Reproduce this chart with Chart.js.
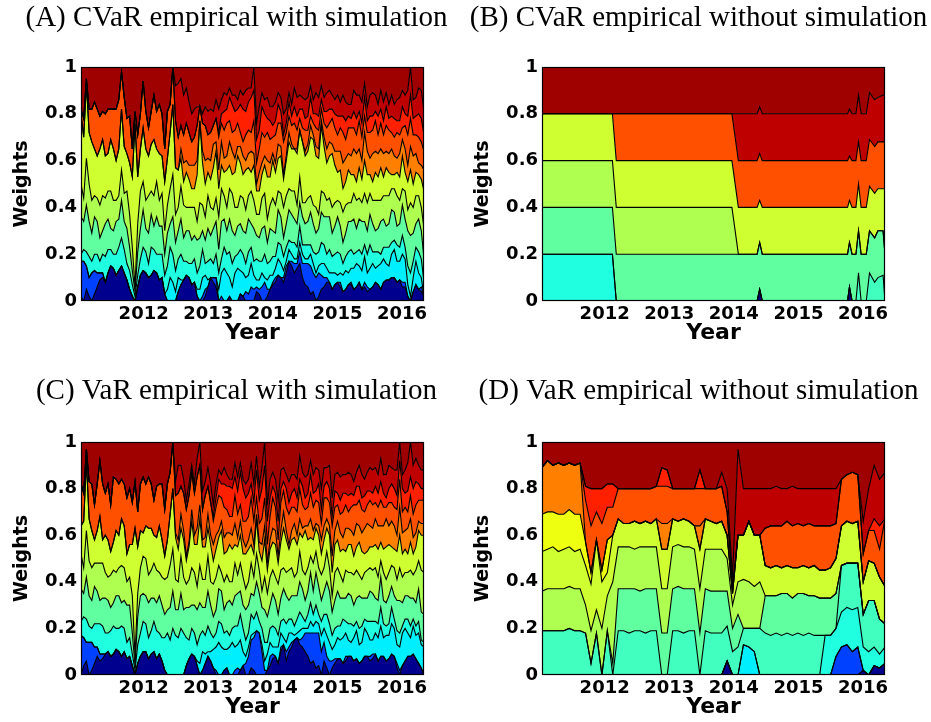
<!DOCTYPE html>
<html>
<head>
<meta charset="utf-8">
<script src="https://cdn.jsdelivr.net/npm/chart.js@4.4.1/dist/chart.umd.min.js"></script>
<style>
  body { margin: 0; width: 931px; height: 722px; overflow: hidden; background: #fff; position: relative; }
  .panel { position: absolute; }
</style>
</head>
<body>
<div class="panel" style="left:0px;top:0px;width:473px;height:347px"><canvas id="chartA"></canvas></div>
<div class="panel" style="left:466px;top:0px;width:465px;height:347px"><canvas id="chartB"></canvas></div>
<div class="panel" style="left:0px;top:370px;width:473px;height:352px"><canvas id="chartC"></canvas></div>
<div class="panel" style="left:466px;top:370px;width:465px;height:352px"><canvas id="chartD"></canvas></div>
<script>
const yearTicks = [2012, 2013, 2014, 2015, 2016];
const firstYear = 2011.03, lastYear = 2016.34;
// rebalancing dates: twice a month for the simulated panels, monthly for (D)
const spread = (n) => Array.from({ length: n }, (_, i) => firstYear + (i * (lastYear - firstYear)) / (n - 1));
const fineDates = spread(128);
const dates = spread(64);

// jet colours, one per asset
const navy = '#00008f', blue = '#0040ff', cyan = '#00efff', aqua = '#20ffdf', teal = '#40ffbf',
  mint = '#60ff9f', lgreen = '#afff50', ygreen = '#cfff30', yellow = '#efff10', amber = '#ff8000',
  orange = '#ff5000', red = '#ff2000', dred = '#bf0000', topRed = '#9f0000';

// (A) CVaR empirical with simulation
const aNavy = [0.02,0.0,0.05,0.02,0.0,0.03,0.06,0.09,0.1,0.08,0.12,0.15,0.14,0.11,0.13,0.15,
  0.12,0.09,0.05,0.02,0.0,0.06,0.11,0.13,0.12,0.1,0.11,0.13,0.12,0.09,0.1,0.03,
  0.0,0.0,0.0,0.0,0.04,0.07,0.09,0.11,0.1,0.07,0.08,0.02,0.0,0.0,0.02,0.06,
  0.1,0.08,0.06,0.0,0.0,0.0,0.0,0.02,0.0,0.0,0.0,0.03,0.02,0.0,0.0,0.0,
  0.0,0.04,0.03,0.0,0.0,0.02,0.05,0.07,0.08,0.11,0.1,0.08,0.12,0.17,0.15,0.12,
  0.14,0.16,0.1,0.07,0.06,0.03,0.04,0.0,0.02,0.05,0.06,0.08,0.08,0.05,0.07,0.08,
  0.06,0.04,0.05,0.07,0.07,0.05,0.06,0.08,0.05,0.06,0.04,0.05,0.06,0.08,0.07,0.05,
  0.08,0.09,0.09,0.1,0.1,0.08,0.09,0.06,0.06,0.02,0.0,0.04,0.07,0.05,0.04,0.02];
const aBlue = [0.15,0.17,0.1,0.08,0.12,0.1,0.06,0.03,0.02,0.0,0,0,0,0,0,0,
  0,0,0,0,0,0,0,0,0,0,0,0,0,0,0,0,
  0,0,0,0,0,0,0,0,0,0,0,0,0,0.02,0.03,0.0,
  0.0,0.02,0.04,0.0,0.02,0.0,0,0,0,0,0,0,0,0.04,0.03,0.06,
  0.05,0.02,0.02,0.06,0.08,0.03,0.0,0.01,0.02,0.0,0.0,0.02,0.03,0.0,0.02,0.04,
  0.02,0.05,0.06,0.09,0.1,0.12,0.08,0.1,0.1,0.06,0.04,0.02,0.0,0.0,0.0,0.0,
  0.02,0.0,0,0,0.01,0.0,0,0,0,0.02,0.02,0.0,0,0,0,0,
  0,0,0,0,0,0,0,0.02,0.02,0.0,0,0,0,0,0.02,0.0];
const aCyan = [0,0,0,0,0,0,0,0,0,0,0,0,0,0,0,0,
  0,0,0,0,0,0,0,0,0,0,0,0,0,0,0,0,
  0.05,0.1,0.08,0.04,0.06,0.02,0,0,0,0,0,0.03,0.05,0.08,0.06,0.03,
  0.0,0.0,0.0,0.05,0.1,0.14,0.12,0.08,0.06,0.12,0.14,0.1,0.1,0.06,0.08,0.1,
  0.06,0.03,0.04,0.06,0.02,0.04,0.06,0.03,0.04,0.07,0.06,0.03,0.02,0.05,0.03,0.02,
  0.02,0.04,0.04,0.02,0.02,0.05,0.04,0.02,0.03,0.05,0.06,0.04,0.04,0.07,0.05,0.03,
  0.04,0.07,0.08,0.05,0.06,0.09,0.1,0.07,0.08,0.11,0.06,0.09,0.1,0.06,0.08,0.11,
  0.1,0.07,0.06,0.1,0.12,0.09,0.08,0.12,0.1,0.05,0.02,0.06,0.1,0.07,0.04,0.0];
const aAqua = [0.03,0.05,0.06,0.09,0.05,0.07,0.08,0.05,0.08,0.11,0.1,0.07,0.06,0.09,0.1,0.12,
  0.1,0.07,0.08,0.05,0.02,0.05,0.07,0.1,0.09,0.06,0.12,0.09,0.08,0.11,0.1,0.08,
  0.1,0.13,0.12,0.09,0.08,0.11,0.08,0.06,0.06,0.09,0.1,0.07,0.1,0.12,0.05,0.08,
  0.08,0.06,0.1,0.07,0.06,0.09,0.08,0.11,0.1,0.07,0.06,0.09,0.08,0.06,0.1,0.07,
  0.06,0.09,0.08,0.05,0.1,0.07,0.06,0.08,0.05,0.07,0.08,0.06,0.06,0.04,0.05,0.07,
  0.05,0.07,0.04,0.06,0.06,0.04,0.05,0.08,0.06,0.09,0.08,0.06,0.1,0.07,0.08,0.1,
  0.08,0.05,0.06,0.09,0.08,0.06,0.05,0.07,0.07,0.05,0.08,0.1,0.05,0.07,0.06,0.04,
  0.05,0.07,0.08,0.05,0.04,0.07,0.06,0.08,0.05,0.08,0.1,0.07,0.06,0.09,0.08,0.06];
const aMint = [0.16,0.12,0.2,0.15,0.12,0.16,0.14,0.1,0.1,0.14,0.13,0.09,0.1,0.14,0.12,0.16,
  0.12,0.15,0.1,0.06,0.02,0.1,0.13,0.16,0.1,0.13,0.14,0.1,0.16,0.12,0.12,0.09,
  0.14,0.1,0.16,0.12,0.12,0.15,0.1,0.13,0.14,0.1,0.1,0.14,0.12,0.08,0.1,0.14,
  0.1,0.15,0.14,0.1,0.16,0.12,0.1,0.14,0.14,0.09,0.12,0.11,0.1,0.13,0.14,0.1,
  0.14,0.1,0.1,0.14,0.12,0.09,0.14,0.11,0.1,0.14,0.12,0.08,0.1,0.13,0.12,0.1,
  0.1,0.1,0.12,0.09,0.1,0.14,0.12,0.09,0.1,0.13,0.12,0.16,0.14,0.1,0.12,0.15,
  0.12,0.09,0.1,0.13,0.12,0.15,0.1,0.13,0.14,0.1,0.1,0.13,0.12,0.09,0.1,0.14,
  0.12,0.09,0.1,0.14,0.12,0.08,0.1,0.13,0.12,0.15,0.16,0.12,0.1,0.14,0.12,0.1];
const aLgreen = [0.14,0.1,0.2,0.16,0.14,0.09,0.1,0.14,0.15,0.11,0.12,0.16,0.13,0.09,0.1,0.13,
  0.12,0.16,0.14,0.1,0.02,0.12,0.16,0.12,0.12,0.16,0.1,0.13,0.15,0.11,0.14,0.1,
  0.12,0.15,0.18,0.12,0.1,0.14,0.14,0.1,0.1,0.14,0.12,0.08,0.15,0.11,0.1,0.14,
  0.12,0.08,0.1,0.14,0.14,0.1,0.1,0.13,0.16,0.12,0.08,0.12,0.14,0.1,0.1,0.14,
  0.12,0.09,0.1,0.13,0.14,0.1,0.1,0.14,0.12,0.08,0.1,0.13,0.12,0.09,0.1,0.12,
  0.08,0.11,0.06,0.09,0.1,0.07,0.08,0.11,0.06,0.09,0.1,0.07,0.08,0.11,0.1,0.07,
  0.1,0.13,0.12,0.08,0.08,0.11,0.12,0.09,0.08,0.12,0.12,0.09,0.1,0.13,0.12,0.09,
  0.1,0.13,0.12,0.09,0.1,0.13,0.1,0.07,0.12,0.09,0.14,0.11,0.12,0.1,0.1,0.13];
const aYgreen = [0.3,0.26,0.32,0.22,0.25,0.2,0.18,0.24,0.24,0.18,0.16,0.22,0.22,0.17,0.2,0.26,
  0.2,0.16,0.22,0.3,0.7,0.2,0.18,0.23,0.22,0.17,0.2,0.24,0.14,0.2,0.16,0.21,
  0.2,0.24,0.3,0.2,0.16,0.12,0.1,0.15,0.12,0.08,0.08,0.2,0.35,0.18,0.14,0.1,
  0.12,0.18,0.2,0.12,0.1,0.1,0.16,0.1,0.08,0.15,0.22,0.14,0.1,0.17,0.12,0.08,
  0.15,0.1,0.1,0.1,0.12,0.18,0.12,0.16,0.14,0.14,0.16,0.12,0.15,0.2,0.18,0.18,
  0.22,0.2,0.26,0.2,0.2,0.25,0.28,0.22,0.24,0.28,0.2,0.16,0.18,0.23,0.16,0.12,
  0.14,0.1,0.1,0.14,0.12,0.08,0.08,0.13,0.1,0.14,0.12,0.08,0.08,0.12,0.1,0.14,
  0.08,0.12,0.1,0.06,0.06,0.1,0.1,0.14,0.08,0.12,0.14,0.1,0.1,0.09,0.12,0.16];
const aAmber = [0,0,0,0,0,0,0,0,0,0,0,0,0,0,0,0,
  0,0,0,0,0,0,0,0,0,0,0,0,0,0,0,0,
  0,0,0,0,0,0.04,0.08,0.05,0.06,0.1,0.1,0.06,0,0.05,0.1,0.06,
  0.08,0.1,0.04,0.08,0.1,0.06,0.06,0.1,0.1,0.06,0.04,0.07,0.08,0.04,0.06,0.09,
  0.05,0.03,0.08,0.05,0.04,0.07,0.06,0.03,0.04,0.06,0.04,0.02,0.02,0.04,0.02,0.0,
  0.02,0.0,0.0,0.02,0.03,0.05,0.02,0.04,0.04,0.02,0.04,0.06,0.06,0.04,0.06,0.09,
  0.08,0.11,0.1,0.07,0.08,0.11,0.12,0.08,0.08,0.12,0.1,0.07,0.12,0.09,0.1,0.08,
  0.1,0.07,0.08,0.11,0.08,0.06,0.1,0.07,0.1,0.07,0.1,0.12,0.08,0.05,0.06,0.09];
const aOrange = [0.02,0.08,0.02,0.1,0.14,0.2,0.2,0.14,0.12,0.18,0.19,0.13,0.17,0.22,0.21,0.16,
  0.21,0.15,0.2,0.12,0.05,0.18,0.15,0.2,0.16,0.12,0.14,0.19,0.16,0.21,0.18,0.14,
  0.2,0.12,0.16,0.2,0.14,0.1,0.12,0.16,0.14,0.1,0.12,0.15,0.06,0.12,0.15,0.1,
  0.12,0.08,0.1,0.14,0.08,0.12,0.14,0.09,0.08,0.12,0.1,0.06,0.06,0.11,0.1,0.08,
  0.14,0.09,0.1,0.13,0.08,0.12,0.1,0.07,0.12,0.09,0.1,0.14,0.1,0.07,0.08,0.11,
  0.08,0.05,0.06,0.09,0.06,0.04,0.05,0.08,0.08,0.05,0.06,0.09,0.08,0.11,0.1,0.07,
  0.1,0.13,0.08,0.11,0.12,0.09,0.08,0.12,0.1,0.07,0.08,0.11,0.1,0.13,0.08,0.11,
  0.08,0.11,0.1,0.07,0.08,0.11,0.08,0.05,0.1,0.13,0.12,0.09,0.08,0.11,0.1,0.08];
const aRed = [0,0,0,0,0,0,0,0,0,0,0,0,0,0,0,0,
  0,0,0,0,0,0,0,0,0,0,0,0,0,0,0,0,
  0,0,0,0,0,0,0,0,0,0,0,0,0,0,0,0,
  0.0,0.0,0.0,0.02,0.04,0.08,0.06,0.1,0.12,0.08,0.06,0.12,0.14,0.1,0.12,0.15,
  0.13,0.1,0.08,0.11,0.1,0.06,0.08,0.05,0.06,0.08,0.05,0.03,0.04,0.06,0.04,0.07,
  0.06,0.04,0.08,0.05,0.06,0.08,0.04,0.06,0.06,0.04,0.05,0.07,0.06,0.04,0.06,0.08,
  0.05,0.07,0.08,0.05,0.04,0.07,0.07,0.04,0.06,0.08,0.05,0.07,0.06,0.04,0.08,0.06,
  0.06,0.08,0.05,0.07,0.08,0.05,0.06,0.09,0.05,0.08,0.1,0.07,0.08,0.1,0.1,0.07];
const aDred = [0,0,0,0,0,0,0,0,0,0,0,0,0,0,0,0,
  0,0,0,0,0,0,0,0,0,0,0,0,0,0,0,0,
  0.0,0.0,0.0,0.15,0.23,0.2,0.17,0.15,0.13,0.12,0.12,0.08,0.0,0.04,0.08,0.1,
  0.1,0.06,0.08,0.1,0.06,0.08,0.06,0.04,0.04,0.07,0.04,0.06,0.06,0.09,0.06,0.04,
  0.1,0.07,0.1,0.06,0.06,0.09,0.06,0.08,0.08,0.05,0.06,0.09,0.06,0.04,0.05,0.08,
  0.08,0.06,0.05,0.08,0.08,0.05,0.06,0.09,0.08,0.06,0.06,0.08,0.08,0.06,0.06,0.09,
  0.06,0.09,0.08,0.05,0.06,0.09,0.1,0.07,0.09,0.06,0.06,0.09,0.1,0.07,0.05,0.08,
  0.08,0.06,0.06,0.09,0.06,0.09,0.1,0.07,0.08,0.11,0.12,0.08,0.08,0.11,0.12,0.1];

// (B) CVaR empirical without simulation, only changes at a few dates
const bDates = [2011.03, 2012.12, 2012.18, 2013.97, 2014.07, 2014.36, 2014.40, 2014.44, 2015.76, 2015.79,
  2015.83, 2015.89, 2015.93, 2015.97, 2016.05, 2016.10, 2016.18, 2016.23, 2016.31, 2016.34];
const bNavy = [0,0,0,0,0,0,0.05,0,0,0.06, 0,0,0,0,0,0,0,0,0,0];
const bAqua = [0.2,0.2,0,0,0,0,0,0,0,0, 0,0,0,0,0,0,0,0,0,0];
const bTeal = [0,0,0,0,0,0,0,0,0,0, 0,0,0.12,0,0,0.12,0.08,0.1,0.11,0];
const bMint = [0.2,0.2,0.2,0.2,0.2,0.2,0.2,0.2,0.2,0.19, 0.2,0.2,0.18,0.2,0.2,0.18,0.19,0.2,0.19,0.2];
const bLgreen = [0.2,0.2,0.2,0.2,0,0,0,0,0,0, 0,0,0,0,0,0,0,0,0,0];
const bYgreen = [0.2,0.2,0.2,0.2,0.2,0.2,0.18,0.2,0.2,0.18, 0.2,0.2,0.2,0.2,0.2,0.19,0.19,0.18,0.18,0.28];
const bOrange = [0,0,0.2,0.2,0.2,0.2,0.2,0.2,0.2,0.19, 0.2,0.2,0.18,0.2,0.2,0.2,0.2,0.2,0.2,0.2];
const bDred = [0,0,0,0,0.2,0.2,0.2,0.2,0.2,0.2, 0.2,0.2,0.2,0.2,0.2,0.2,0.2,0.19,0.2,0.2];

// (C) VaR empirical with simulation
const cNavy = [0.0,0.04,0.06,0.0,0.02,0.05,0.08,0.06,0.07,0.09,0.1,0.08,0.09,0.11,0.1,0.08,
  0.1,0.07,0.08,0.04,0.0,0.05,0.08,0.1,0.1,0.07,0.09,0.1,0.07,0.09,0.06,0.02,
  0.0,0.0,0.0,0.0,0.0,0.0,0.0,0.04,0.07,0.09,0.08,0.04,0.0,0.02,0.05,0.08,
  0.06,0.03,0.0,0.0,0.0,0.02,0.03,0.0,0.0,0.0,0.0,0.02,0.04,0.0,0.0,0.03,
  0.02,0.0,0.0,0.0,0.0,0.02,0.04,0.07,0.08,0.05,0.1,0.13,0.06,0.1,0.12,0.15,
  0.16,0.13,0.12,0.1,0.08,0.05,0.06,0.03,0.04,0.0,0.06,0.03,0.0,0.03,0.05,0.07,
  0.07,0.05,0.06,0.08,0.08,0.06,0.07,0.05,0.06,0.08,0.08,0.06,0.07,0.09,0.06,0.08,
  0.08,0.06,0.07,0.09,0.08,0.03,0.0,0.04,0.06,0.08,0.08,0.09,0.07,0.05,0.03,0.0];
const cBlue = [0.17,0.12,0.08,0.14,0.12,0.07,0.04,0.03,0.02,0.0,0,0,0,0,0,0,
  0,0,0,0,0,0,0,0,0,0,0,0,0,0,0,0,
  0,0,0,0,0,0,0,0,0,0,0,0,0,0,0,0,
  0.0,0.0,0.02,0.0,0.0,0.0,0.0,0.0,0.0,0.02,0.03,0.0,0.0,0.05,0.08,0.12,
  0.14,0.19,0.18,0.1,0.02,0.0,0.04,0.02,0.0,0.0,0.02,0.0,0.04,0.02,0.02,0.0,
  0.0,0.02,0.04,0.08,0.1,0.13,0.12,0.15,0.14,0.1,0.08,0.05,0.06,0.03,0.02,0.0,
  0,0,0.02,0.0,0,0,0,0,0,0,0,0.02,0.02,0.0,0,0,
  0,0,0,0,0,0.02,0.02,0.0,0,0,0,0,0,0,0,0];
const cCyan = [0,0,0,0,0,0,0,0,0,0,0,0,0,0,0,0,
  0,0,0,0,0,0,0,0,0,0,0,0,0,0,0,0,
  0,0,0,0,0,0,0,0,0,0,0,0.02,0.05,0.08,0.04,0.02,
  0.04,0.08,0.1,0.14,0.12,0.09,0.08,0.12,0.14,0.1,0.1,0.13,0.06,0.03,0.04,0.02,
  0.02,0.0,0.0,0.03,0.04,0.07,0.06,0.03,0.04,0.07,0.06,0.03,0.04,0.06,0.04,0.02,
  0.02,0.04,0.04,0.02,0.02,0.05,0.03,0.05,0.04,0.07,0.06,0.09,0.08,0.05,0.06,0.09,
  0.08,0.11,0.1,0.07,0.06,0.1,0.12,0.08,0.08,0.12,0.1,0.07,0.06,0.09,0.1,0.13,
  0.08,0.11,0.1,0.13,0.12,0.08,0.1,0.14,0.14,0.1,0.08,0.12,0.1,0.13,0.1,0.12];
const cAqua = [0.06,0.09,0.1,0.07,0.06,0.1,0.1,0.13,0.12,0.09,0.08,0.11,0.12,0.09,0.1,0.13,
  0.1,0.07,0.08,0.05,0.02,0.08,0.1,0.13,0.12,0.09,0.1,0.13,0.12,0.09,0.1,0.14,
  0.18,0.15,0.2,0.17,0.16,0.2,0.18,0.12,0.08,0.11,0.1,0.07,0.12,0.09,0.08,0.11,
  0.08,0.05,0.06,0.09,0.1,0.07,0.08,0.05,0.06,0.09,0.08,0.11,0.1,0.07,0.06,0.09,
  0.06,0.08,0.05,0.07,0.08,0.05,0.06,0.09,0.08,0.05,0.05,0.08,0.08,0.06,0.06,0.04,
  0.06,0.08,0.05,0.03,0.06,0.08,0.05,0.07,0.04,0.06,0.06,0.09,0.08,0.06,0.07,0.05,
  0.06,0.08,0.05,0.07,0.08,0.05,0.04,0.07,0.07,0.04,0.05,0.08,0.08,0.05,0.06,0.08,
  0.06,0.04,0.05,0.07,0.04,0.06,0.06,0.03,0.04,0.06,0.05,0.03,0.04,0.05,0.02,0.02];
const cMint = [0.14,0.1,0.18,0.13,0.12,0.16,0.14,0.1,0.12,0.15,0.14,0.1,0.1,0.14,0.14,0.1,
  0.12,0.16,0.14,0.09,0.02,0.12,0.16,0.12,0.12,0.15,0.14,0.1,0.12,0.16,0.14,0.1,
  0.1,0.14,0.16,0.11,0.12,0.15,0.1,0.13,0.14,0.1,0.12,0.15,0.14,0.1,0.12,0.15,
  0.12,0.09,0.1,0.14,0.14,0.1,0.12,0.15,0.1,0.13,0.14,0.1,0.1,0.13,0.12,0.09,
  0.1,0.13,0.12,0.09,0.14,0.11,0.1,0.14,0.12,0.09,0.1,0.13,0.12,0.08,0.1,0.13,
  0.1,0.13,0.12,0.09,0.1,0.13,0.1,0.14,0.12,0.09,0.1,0.14,0.14,0.1,0.12,0.15,
  0.12,0.09,0.1,0.13,0.12,0.09,0.1,0.14,0.12,0.09,0.1,0.13,0.12,0.1,0.1,0.13,
  0.1,0.1,0.12,0.09,0.1,0.13,0.14,0.1,0.1,0.1,0.12,0.09,0.1,0.14,0.12,0.12];
const cLgreen = [0.15,0.11,0.2,0.15,0.14,0.1,0.12,0.16,0.15,0.11,0.1,0.14,0.14,0.1,0.12,0.16,
  0.14,0.1,0.12,0.16,0.04,0.1,0.12,0.16,0.16,0.12,0.12,0.15,0.14,0.1,0.12,0.15,
  0.14,0.18,0.18,0.13,0.12,0.16,0.14,0.1,0.12,0.16,0.14,0.1,0.16,0.12,0.12,0.15,
  0.1,0.14,0.14,0.1,0.08,0.12,0.12,0.08,0.1,0.14,0.08,0.12,0.12,0.09,0.1,0.13,
  0.08,0.12,0.1,0.07,0.14,0.1,0.12,0.1,0.1,0.13,0.12,0.09,0.1,0.13,0.12,0.08,
  0.1,0.13,0.08,0.11,0.1,0.07,0.12,0.09,0.08,0.11,0.1,0.13,0.1,0.07,0.12,0.1,
  0.1,0.07,0.12,0.09,0.1,0.13,0.12,0.09,0.08,0.11,0.12,0.1,0.1,0.13,0.1,0.07,
  0.12,0.1,0.1,0.09,0.12,0.09,0.14,0.11,0.1,0.1,0.12,0.1,0.14,0.12,0.18,0.18];
const cYgreen = [0.12,0.2,0.3,0.18,0.16,0.1,0.14,0.2,0.1,0.16,0.16,0.1,0.12,0.18,0.14,0.2,
  0.18,0.12,0.14,0.22,0.55,0.2,0.16,0.1,0.14,0.2,0.18,0.12,0.14,0.2,0.16,0.1,
  0.16,0.22,0.26,0.18,0.14,0.12,0.16,0.1,0.14,0.2,0.12,0.18,0.2,0.14,0.14,0.12,
  0.16,0.1,0.12,0.12,0.18,0.12,0.1,0.16,0.14,0.08,0.12,0.12,0.1,0.15,0.14,0.08,
  0.1,0.15,0.08,0.13,0.16,0.1,0.12,0.12,0.14,0.09,0.12,0.17,0.14,0.09,0.12,0.17,
  0.12,0.08,0.14,0.19,0.12,0.08,0.1,0.1,0.14,0.09,0.12,0.1,0.14,0.1,0.12,0.12,
  0.1,0.14,0.08,0.12,0.12,0.08,0.1,0.14,0.12,0.08,0.08,0.09,0.1,0.1,0.12,0.08,
  0.1,0.14,0.12,0.08,0.08,0.12,0.14,0.1,0.1,0.08,0.12,0.09,0.1,0.13,0.15,0.16];
const cAmber = [0,0,0,0,0,0,0,0,0,0,0,0,0,0,0,0,
  0,0,0,0,0,0,0,0,0,0,0,0,0,0,0,0,
  0,0,0,0.02,0.04,0.06,0.04,0.02,0.02,0.05,0.04,0.07,0.06,0.03,0.04,0.06,
  0.04,0.07,0.06,0.03,0.04,0.07,0.08,0.05,0.06,0.09,0.04,0.06,0.06,0.03,0.04,0.07,
  0.04,0.02,0.04,0.07,0.06,0.03,0.04,0.06,0.06,0.03,0.05,0.07,0.04,0.02,0.04,0.06,
  0.04,0.06,0.04,0.02,0.06,0.08,0.04,0.02,0.04,0.06,0.06,0.04,0.04,0.07,0.06,0.08,
  0.08,0.05,0.1,0.07,0.06,0.09,0.1,0.07,0.08,0.11,0.12,0.09,0.08,0.11,0.1,0.07,
  0.1,0.12,0.08,0.11,0.1,0.07,0.12,0.09,0.08,0.11,0.1,0.07,0.06,0.04,0.05,0.05];
const cOrange = [0.18,0.12,0.05,0.16,0.2,0.15,0.2,0.24,0.24,0.18,0.24,0.2,0.28,0.22,0.22,0.17,
  0.18,0.24,0.24,0.18,0.2,0.15,0.2,0.24,0.18,0.22,0.19,0.15,0.22,0.18,0.24,0.2,
  0.24,0.18,0.2,0.16,0.2,0.12,0.16,0.2,0.2,0.16,0.18,0.22,0.17,0.13,0.18,0.12,
  0.14,0.1,0.12,0.15,0.1,0.13,0.1,0.07,0.08,0.12,0.1,0.07,0.08,0.11,0.1,0.13,
  0.1,0.07,0.08,0.11,0.12,0.08,0.1,0.13,0.1,0.07,0.12,0.09,0.1,0.13,0.1,0.07,
  0.1,0.13,0.1,0.07,0.08,0.11,0.1,0.1,0.1,0.07,0.12,0.09,0.1,0.13,0.1,0.07,
  0.08,0.11,0.1,0.07,0.1,0.13,0.08,0.11,0.1,0.07,0.08,0.11,0.1,0.07,0.08,0.11,
  0.08,0.05,0.1,0.08,0.08,0.11,0.12,0.09,0.1,0.07,0.1,0.1,0.12,0.09,0.1,0.1];
const cRed = [0,0,0,0,0,0,0,0,0,0,0,0,0,0,0,0,
  0,0,0,0,0,0,0,0,0,0,0,0,0,0,0,0,
  0,0,0,0,0,0,0,0,0,0,0,0,0,0,0,0,
  0.0,0.02,0.04,0.07,0.06,0.1,0.1,0.13,0.12,0.08,0.1,0.14,0.14,0.1,0.1,0.06,
  0.08,0.12,0.1,0.13,0.14,0.1,0.08,0.05,0.06,0.08,0.06,0.04,0.08,0.05,0.06,0.08,
  0.06,0.04,0.08,0.05,0.06,0.08,0.06,0.04,0.08,0.06,0.05,0.07,0.06,0.04,0.07,0.05,
  0.06,0.08,0.05,0.07,0.06,0.04,0.08,0.06,0.05,0.07,0.06,0.04,0.05,0.07,0.06,0.08,
  0.06,0.04,0.06,0.08,0.08,0.06,0.08,0.1,0.06,0.09,0.08,0.11,0.1,0.07,0.05,0.05];
const cDred = [0,0,0,0,0,0,0,0,0,0,0,0,0,0,0,0,
  0,0,0,0,0,0,0,0,0,0,0,0,0,0,0,0,
  0,0,0,0.06,0.12,0.09,0.06,0.04,0.05,0.03,0.04,0.08,0.1,0.08,0.06,0.08,
  0.08,0.05,0.06,0.04,0.04,0.07,0.05,0.03,0.04,0.06,0.06,0.04,0.04,0.06,0.06,0.09,
  0.08,0.06,0.06,0.09,0.1,0.07,0.08,0.06,0.06,0.09,0.08,0.06,0.06,0.09,0.08,0.06,
  0.08,0.1,0.06,0.09,0.08,0.06,0.08,0.1,0.06,0.09,0.08,0.06,0.1,0.08,0.07,0.09,
  0.1,0.08,0.08,0.1,0.08,0.06,0.06,0.09,0.1,0.07,0.08,0.1,0.1,0.08,0.08,0.1,
  0.08,0.1,0.1,0.07,0.08,0.11,0.08,0.06,0.1,0.12,0.15,0.1,0.1,0.08,0.08,0.08];

// (D) VaR empirical without simulation
const dNavy = [0,0,0,0,0,0,0,0, 0,0,0,0,0,0,0,0,
  0,0,0,0,0,0,0,0, 0,0,0,0,0,0,0,0,
  0,0,0.06,0,0,0,0,0, 0,0,0,0,0,0,0,0,
  0,0,0,0,0,0,0,0, 0,0,0,0.02,0,0.04,0.03,0.05];
const dBlue = [0,0,0,0,0,0,0,0, 0,0,0,0,0,0,0,0,
  0,0,0,0,0,0,0,0, 0,0,0,0,0,0,0,0,
  0,0,0,0,0,0,0,0, 0,0,0,0,0,0,0,0,
  0,0,0,0,0,0,0.08,0.12, 0.13,0.1,0.12,0,0,0,0,0];
const dCyan = [0,0,0,0,0,0,0,0, 0,0,0,0,0,0,0,0,
  0,0,0,0,0,0,0,0, 0,0,0,0,0,0,0,0,
  0,0,0,0,0,0.13,0.12,0.1, 0,0,0,0,0,0,0,0,
  0,0,0,0,0,0,0,0, 0,0,0,0,0,0,0,0];
const dAqua = [0,0,0,0,0,0,0,0, 0,0,0,0,0,0,0,0,
  0,0,0,0,0,0,0,0, 0,0,0,0,0,0,0,0,
  0,0,0,0,0,0,0,0, 0,0,0,0,0,0,0,0,
  0,0,0,0,0.17,0.17,0.12,0.15, 0.16,0.18,0.17,0.1,0.1,0.08,0.06,0.07];
const dTeal = [0.19,0.19,0.19,0.19,0.19,0.2,0.19,0.19, 0.18,0.05,0.18,0,0.19,0,0.19,0.19,
  0.18,0.19,0.19,0.18,0.19,0.19,0,0, 0.19,0.19,0.18,0.19,0.19,0,0.19,0.18,
  0.18,0.18,0.15,0.1,0.12,0.07,0.08,0.1, 0.2,0.18,0.17,0.18,0.17,0.18,0.17,0.18,
  0.17,0.18,0.17,0.17,0,0,0,0.2, 0.19,0.2,0.19,0.14,0.22,0.2,0.15,0.1];
const dMint = [0,0,0,0,0,0,0,0, 0,0,0,0,0,0.05,0.18,0.18,
  0.19,0.18,0.17,0.19,0.18,0.18,0.18,0.18, 0.18,0.19,0.19,0.18,0.18,0.18,0.18,0.18,
  0.18,0.18,0.15,0.1,0.14,0,0,0, 0,0.16,0.17,0.16,0.18,0.17,0.16,0.17,
  0.18,0.16,0.17,0.16,0.16,0.16,0.15,0, 0,0,0,0,0,0,0,0];
const dLgreen = [0.17,0.18,0.18,0.18,0.18,0.18,0.18,0.18, 0.12,0.14,0.1,0.2,0.15,0.35,0.18,0.18,
  0.18,0.17,0.19,0.18,0.18,0.18,0.19,0.19, 0.18,0.18,0.18,0.18,0.17,0.19,0.17,0.18,
  0.18,0.18,0.14,0.1,0.14,0.21,0.2,0.18, 0.2,0,0,0,0,0,0,0,
  0,0,0,0,0,0,0,0, 0,0,0,0,0,0,0,0];
const dYgreen = [0.17,0.17,0.18,0.16,0.17,0.17,0.16,0.17, 0.17,0.2,0.3,0.2,0.1,0.2,0.12,0.1,
  0.1,0.12,0.1,0.11,0.1,0.12,0.17,0.17, 0.12,0.1,0.12,0.11,0.1,0.17,0.13,0.12,
  0.11,0.12,0.1,0.05,0.2,0.19,0.26,0.22, 0.2,0.13,0.12,0.13,0.11,0.12,0.13,0.11,
  0.12,0.12,0.13,0.12,0.12,0.13,0.15,0.17, 0.18,0.17,0.18,0.14,0.17,0.16,0.18,0.16];
const dYellow = [0.16,0.16,0.15,0.16,0.15,0.16,0.16,0.15, 0.1,0.05,0,0.05,0.14,0,0,0,
  0,0,0,0,0,0,0,0, 0,0,0,0,0,0,0,0,
  0,0,0,0,0,0,0,0, 0,0,0,0,0,0,0,0,
  0,0,0,0,0,0,0,0, 0,0,0,0,0,0,0,0];
const dAmber = [0.2,0.22,0.2,0.22,0.21,0.2,0.21,0.22, 0,0,0,0,0,0,0,0,
  0,0,0,0,0,0,0.11,0.11, 0,0,0,0,0,0.1,0,0,
  0,0,0,0,0,0,0,0, 0,0,0,0,0,0,0,0,
  0,0,0,0,0,0,0,0, 0,0,0,0,0,0,0,0];
const dOrange = [0,0,0,0,0,0,0,0, 0.18,0.2,0.12,0.2,0.14,0.12,0.13,0.15,
  0.15,0.14,0.15,0.14,0.15,0.14,0.16,0.16, 0.13,0.14,0.13,0.14,0.16,0.16,0.13,0.14,
  0.15,0.15,0.1,0.03,0,0,0,0, 0,0.16,0.18,0.17,0.18,0.19,0.18,0.19,
  0.17,0.19,0.17,0.19,0.19,0.18,0.15,0.2, 0.2,0.22,0.2,0.12,0.13,0.14,0.12,0.29];
const dRed = [0,0,0,0,0,0,0,0, 0.06,0.16,0.1,0.15,0.1,0.1,0,0,
  0,0,0,0,0,0,0.08,0.07, 0,0,0,0,0,0.08,0,0,
  0,0,0,0,0,0,0,0, 0,0,0,0,0,0,0,0,
  0,0,0,0,0,0,0,0, 0,0,0,0,0,0.05,0.1,0];
const dDred = [0,0,0,0,0,0,0,0, 0,0,0,0,0,0,0,0,
  0,0,0,0,0,0,0,0, 0,0,0,0,0,0,0,0,
  0,0.06,0.1,0.04,0.37,0.2,0.14,0.2, 0.2,0.17,0.16,0.17,0.16,0.14,0.17,0.15,
  0.16,0.15,0.16,0.16,0.16,0.16,0.15,0, 0,0,0,0.14,0.18,0.23,0.2,0.2];

const tickFont = { family: 'DejaVu Sans', size: 18, weight: 'bold' };

// black box round the plot area, like the matlab axes
const framePlugin = {
  id: 'frame',
  afterDatasetsDraw: function (chart) {
    const a = chart.chartArea;
    const ctx = chart.ctx;
    ctx.save();
    ctx.strokeStyle = '#000';
    ctx.lineWidth = 1.2;
    ctx.strokeRect(a.left + 0.5, a.top + 0.5, a.right - a.left - 1, a.bottom - a.top - 1);
    ctx.restore();
  },
};

const makeChart = function (id, title, xs, layers, geo) {
  // the last asset takes what is left, the weights sum to one
  const rest = xs.map((_, i) => Math.max(0, 1 - layers.reduce((s, l) => s + l[1][i], 0)));
  const all = layers.concat([[topRed, rest]]);
  const datasets = all.map(function (layer, k) {
    return {
      data: xs.map((x, i) => ({ x: x, y: layer[1][i] })),
      backgroundColor: layer[0],
      borderColor: '#000',
      borderWidth: 1.1,
      fill: k == 0 ? 'origin' : '-1',
      pointRadius: 0,
      tension: 0,
    };
  });

  new Chart(document.getElementById(id), {
    type: 'line',
    data: { datasets: datasets },
    options: {
      responsive: true,
      maintainAspectRatio: false,
      animation: false,
      layout: { padding: 0 },
      plugins: {
        legend: { display: false },
        tooltip: { enabled: false },
        filler: { drawTime: 'beforeDatasetsDraw' },
        title: {
          display: true,
          text: title,
          color: '#000',
          font: { family: 'Liberation Serif', size: 29, weight: 'normal', lineHeight: 1 },
          padding: { top: geo.tTop, bottom: geo.tBottom },
        },
      },
      scales: {
        x: {
          type: 'linear',
          min: firstYear,
          max: lastYear,
          grid: { display: false, drawTicks: false },
          border: { display: false },
          ticks: { color: '#000', font: tickFont, padding: 3, autoSkip: false, maxRotation: 0, callback: (v) => String(v) },
          afterBuildTicks: function (s) {
            s.ticks = yearTicks.map((v) => ({ value: v }));
          },
          afterFit: function (s) {
            s.height = geo.xH;
          },
          title: {
            display: true,
            text: 'Year',
            color: '#000',
            font: { family: 'DejaVu Sans', size: 22, weight: 'bold' },
            padding: { top: 0, bottom: geo.xPad },
          },
        },
        y: {
          stacked: true,
          min: 0,
          max: 1,
          grid: { display: false, drawTicks: false },
          border: { display: false },
          ticks: { stepSize: 0.2, color: '#000', font: tickFont, padding: 4, callback: (v) => String(Math.round(v * 10) / 10) },
          afterFit: function (s) {
            s.width = geo.yW;
          },
          title: {
            display: true,
            text: 'Weights',
            color: '#000',
            font: { family: 'DejaVu Sans', size: 19, weight: 'bold' },
            padding: { top: geo.yPad, bottom: 0 },
          },
        },
        // empty axis, only keeps the right margin
        right: {
          axis: 'y',
          type: 'linear',
          position: 'right',
          display: true,
          grid: { display: false, drawTicks: false },
          border: { display: false },
          ticks: { display: false },
          afterFit: function (s) {
            s.width = geo.padR;
          },
        },
      },
    },
    plugins: [framePlugin],
  });
};

document.addEventListener('DOMContentLoaded', function () {
  makeChart('chartA', '(A) CVaR empirical with simulation', fineDates,
    [[navy, aNavy], [blue, aBlue], [cyan, aCyan], [aqua, aAqua], [mint, aMint], [lgreen, aLgreen],
     [ygreen, aYgreen], [amber, aAmber], [orange, aOrange], [red, aRed], [dred, aDred]],
    { tTop: 4, tBottom: 34, xH: 46, yW: 81, padR: 49, yPad: 11, xPad: 1 });

  makeChart('chartB', '(B) CVaR empirical without simulation', bDates,
    [[navy, bNavy], [aqua, bAqua], [teal, bTeal], [mint, bMint], [lgreen, bLgreen],
     [ygreen, bYgreen], [orange, bOrange], [dred, bDred]],
    { tTop: 4, tBottom: 34, xH: 46, yW: 76, padR: 46, yPad: 6, xPad: 1 });

  makeChart('chartC', '(C) VaR empirical with simulation', fineDates,
    [[navy, cNavy], [blue, cBlue], [cyan, cCyan], [aqua, cAqua], [mint, cMint], [lgreen, cLgreen],
     [ygreen, cYgreen], [amber, cAmber], [orange, cOrange], [red, cRed], [dred, cDred]],
    { tTop: 7, tBottom: 36, xH: 47, yW: 81, padR: 49, yPad: 11, xPad: 2 });

  makeChart('chartD', '(D) VaR empirical without simulation', dates,
    [[navy, dNavy], [blue, dBlue], [cyan, dCyan], [aqua, dAqua], [teal, dTeal], [mint, dMint],
     [lgreen, dLgreen], [ygreen, dYgreen], [yellow, dYellow], [amber, dAmber], [orange, dOrange],
     [red, dRed], [dred, dDred]],
    { tTop: 7, tBottom: 36, xH: 47, yW: 76, padR: 46, yPad: 6, xPad: 2 });
});
</script>
</body>
</html>
